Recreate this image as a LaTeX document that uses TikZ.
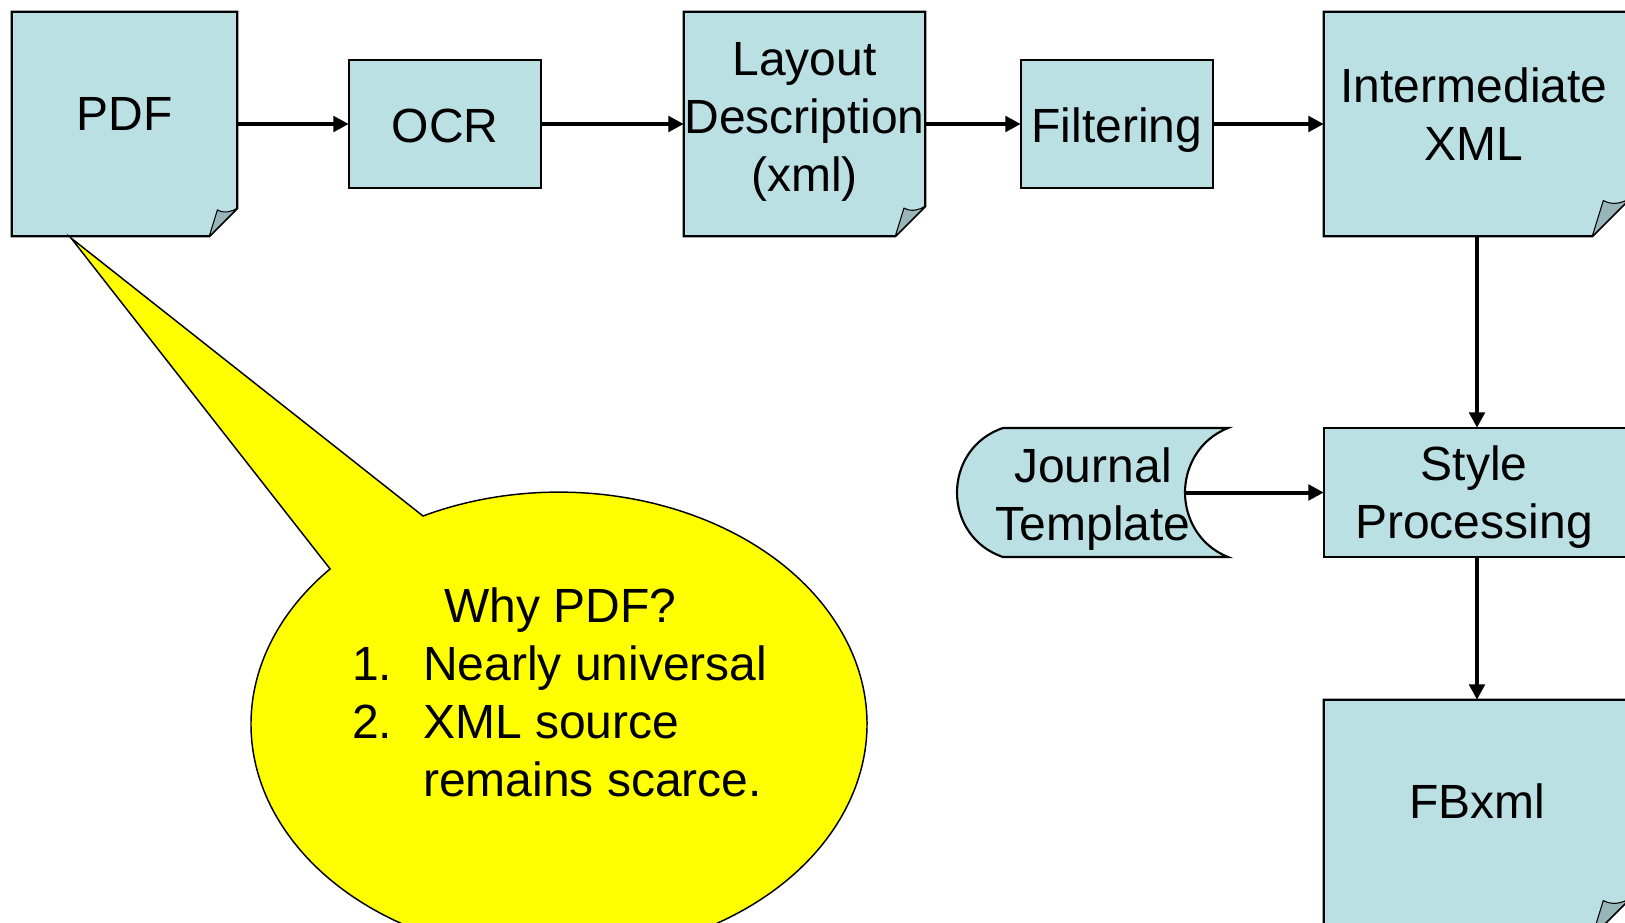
\documentclass[tikz,border=0pt]{standalone}
\usepackage{fontspec}
\setmainfont{Liberation Sans}
\usetikzlibrary{calc,arrows.meta,fit}
\newdimen\px \px=0.75pt
\definecolor{boxfill}{HTML}{BBE0E3}
\definecolor{flapfill}{HTML}{98B6B9}
\definecolor{calloutfill}{HTML}{FFFF00}

\tikzset{
  frame/.style={draw=none, fill=none, inner sep=0pt, rectangle},
  boxline/.style={draw=black, line width=1.6pt, fill=boxfill},
  flapline/.style={draw=black, line width=0.8pt, fill=flapfill, line join=round},
  lbl/.style={inner sep=0pt, align=center, font=\fontsize{36pt}{43.5pt}\selectfont},
  flow/.style={line width=3pt, -{Triangle[length=11.5pt,width=11.5pt]}},
  callout/.style={draw=black, line width=1.1pt, fill=calloutfill, line join=miter},
}

% document shape: rectangle with a folded lower-right corner
\newcommand\docshape[2]{%
  \path[boxline] (#1.north west) -- (#1.north east)
    -- ($(#1.south east)+(0,-#2)$) -- ($(#1.south east)+(-#2,0)$)
    -- (#1.south west) -- cycle;
  \path[flapline] ($(#1.south east)+(-#2,0)$)
    -- ($(#1.south east)+(-0.71*#2,-0.94*#2)$)
    .. controls ($(#1.south east)+(-0.45*#2,-0.8*#2)$) and ($(#1.south east)+(-0.2*#2,-0.88*#2)$)
    .. ($(#1.south east)+(0,-#2)$) -- cycle;
}

\begin{document}
\begin{tikzpicture}[x=0.75pt, y=-0.75pt]
\useasboundingbox (0,0) rectangle (1625,922);
\clip (0,0) rectangle (1625,922);

% process and document boxes
\node[frame, fit={(12,12) (237,236)}] (pdf) {};
\node[frame, fit={(349,60) (541,188)}] (ocr) {};
\node[frame, fit={(684,12) (925,236)}] (layout) {};
\node[frame, fit={(1021,60) (1213,188)}] (filt) {};
\node[frame, fit={(1324,12) (1630,236)}] (ixml) {};
\node[frame, fit={(957,428) (1228,557)}] (jt) {};
\node[frame, fit={(1324,428) (1630,557)}] (style) {};
\node[frame, fit={(1324,700) (1630,936)}] (fbxml) {};

\docshape{pdf}{28}
\path[boxline] (ocr.north west) rectangle (ocr.south east);
\docshape{layout}{30}
\path[boxline] (filt.north west) rectangle (filt.south east);
\docshape{ixml}{38}
\path[boxline] (style.north west) rectangle (style.south east);
\docshape{fbxml}{38}

% stored-data shape for the journal template
\path[boxline] (1003,428) -- (1228,428)
  .. controls (1198,440) and (1185,468) .. (1185,492.5)
  .. controls (1185,517) and (1198,545) .. (1228,557)
  -- (1003,557)
  .. controls (973,547) and (957,520) .. (957,492.5)
  .. controls (957,465) and (973,438) .. (1003,428) -- cycle;
\coordinate (jt-notch) at ($(jt.east)+(-43,0)$);

% callout bubble
\path[callout] (423,516) arc[start angle=116.2, end angle=-222, x radius=231pt, y radius=174pt]
  -- (71,238) -- cycle;

% labels
\node[lbl] (pdf-text) at (124.5,118.4) {\strut PDF};
\node[lbl] (ocr-text) at (445,130.4) {\strut OCR};
\node[lbl] (layout-text) at (804.5,121.4) {\strut Layout\\\strut Description\\\strut (xml)};
\node[lbl] (filt-text) at (1117,130.4) {\strut Filtering};
\node[lbl] (ixml-text) at (1474,119.4) {\strut Intermediate\\\strut XML};
\node[lbl] (jt-text) at (1093,499.4) {\strut Journal\\\strut Template};
\node[lbl] (style-text) at (1474,497.4) {\strut Style\\\strut Processing};
\node[lbl] (fb-text) at (1477,806.4) {\strut FBxml};
\node[lbl, align=left, anchor=west] (why-text) at (352,697.4)
  {\strut\hspace*{92\px}Why PDF?\\
   \strut\makebox[71\px][l]{1.}Nearly universal\\
   \strut\makebox[71\px][l]{2.}XML source\\
   \strut\hspace*{71\px}remains scarce.};

% connectors
\draw[flow] (pdf) -- (ocr);
\draw[flow] (ocr) -- (layout);
\draw[flow] (layout) -- (filt);
\draw[flow] (filt) -- (ixml);
\draw[flow] (ixml) -- (style);
\draw[flow] (jt-notch) -- (style.west);
\draw[flow] (style) -- (fbxml);
\end{tikzpicture}
\end{document}
